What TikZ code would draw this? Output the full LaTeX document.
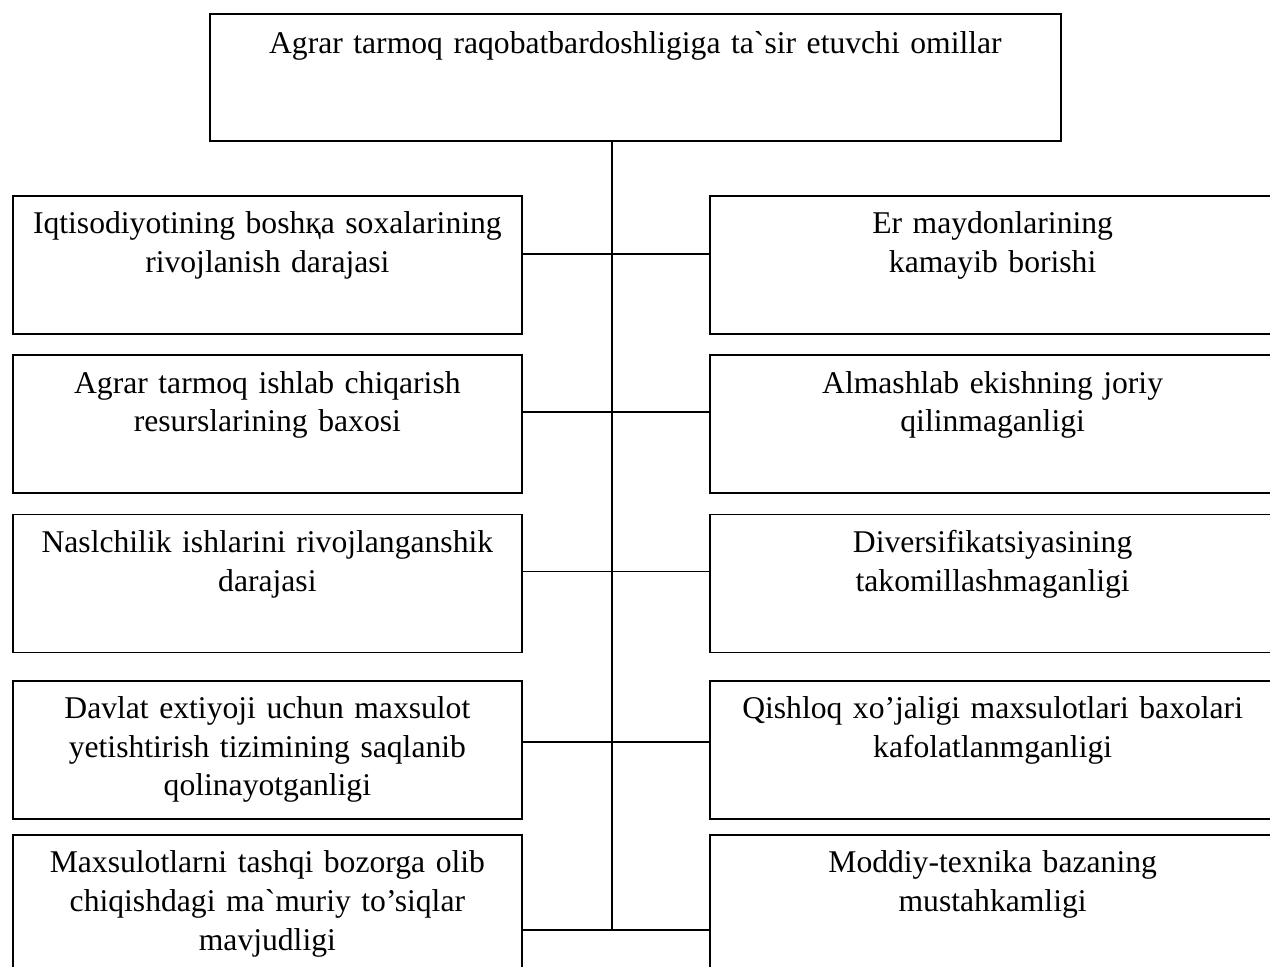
\documentclass[tikz,border=0pt]{standalone}
\usepackage{fontspec}
\setmainfont{Liberation Serif}
\usetikzlibrary{positioning}
\newcommand{\gr}{\textasciigrave{}}
\tikzset{
  factor/.style={
    draw,
    line width=1pt,
    align=center,
    inner xsep=1mm,
    inner ysep=0pt,
    font=\fontsize{18}{22}\selectfont,
    text height=7.6mm,
    text depth=20mm
  },
  leftbox/.style={factor, text width=99.8mm},
  rightbox/.style={factor, text width=111.2mm},
  topbox/.style={factor, text width=168.2mm, text height=8mm, text depth=17.4mm},
  link/.style={line width=1pt}
}

\begin{document}
\begin{tikzpicture}
  \useasboundingbox (0,0) rectangle (25.4,-19.34);
  \fill[white] (0,0) rectangle (25.4,-19.34);

  \node[topbox, anchor=north west] (top) at (4.18,-0.26) {Agrar tarmoq raqobatbardoshligiga ta\gr sir etuvchi omillar};

  \node[leftbox, anchor=north west] (l1) at (0.24,-3.9) {Iqtisodiyotining boshқa soxalarining\\ rivojlanish darajasi};
  \node[leftbox, below=3.9mm of l1] (l2) {Agrar tarmoq ishlab chiqarish\\ resurslarining baxosi};
  \node[leftbox, below=3.9mm of l2] (l3) {Naslchilik ishlarini rivojlanganshik\\ darajasi};
  \node[leftbox, below=5.3mm of l3] (l4) {Davlat extiyoji uchun maxsulot\\ yetishtirish tizimining saqlanib\\ qolinayotganligi};
  \node[leftbox, below=2.9mm of l4] (l5) {Maxsulotlarni tashqi bozorga olib\\ chiqishdagi ma\gr muriy to’siqlar\\ mavjudligi};

  \node[rightbox, right=37.2mm of l1] (r1) {Er maydonlarining\\ kamayib borishi};
  \node[rightbox, right=37.2mm of l2] (r2) {Almashlab ekishning joriy\\ qilinmaganligi};
  \node[rightbox, right=37.2mm of l3] (r3) {Diversifikatsiyasining\\ takomillashmaganligi};
  \node[rightbox, right=37.2mm of l4] (r4) {Qishloq xo’jaligi maxsulotlari baxolari\\ kafolatlanmganligi};
  \node[rightbox, right=37.2mm of l5] (r5) {Moddiy-texnika bazaning\\ mustahkamligi};

  % trunk and row links
  \coordinate (s) at ([xshift=-4.7mm]top.south);
  \foreach \i/\d in {1/11.8,2/11.6,3/11.6,4/12.4,5/19.2} {
    \coordinate (j\i) at ([yshift=-\d mm]l\i.north -| s);
    \draw[link] (l\i.east |- j\i) -- (r\i.west |- j\i);
  }
  \draw[link] (s) -- (j5);
\end{tikzpicture}
\end{document}
